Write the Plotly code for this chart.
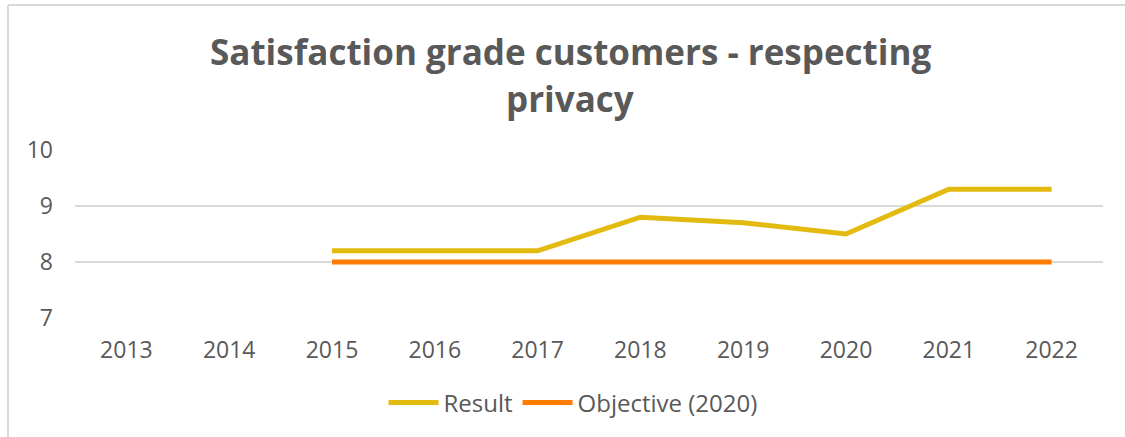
import plotly.graph_objects as go

years = ["2013", "2014", "2015", "2016", "2017", "2018", "2019", "2020", "2021", "2022"]
result_years = ["2015", "2016", "2017", "2018", "2019", "2020", "2021", "2022"]
result_values = [8.2, 8.2, 8.2, 8.8, 8.7, 8.5, 9.3, 9.3]
objective_years = ["2015", "2016", "2017", "2018", "2019", "2020", "2021", "2022"]
objective_values = [8, 8, 8, 8, 8, 8, 8, 8]
y_ticks = [7, 8, 9, 10]

FONT = "Open Sans"
GRAY = "#595959"

fig = go.Figure()
fig.add_trace(go.Scatter(x=result_years, y=result_values, mode="lines", name="Result",
                         line=dict(color="#E3BA10", width=5)))
fig.add_trace(go.Scatter(x=objective_years, y=objective_values, mode="lines", name="Objective (2020)",
                         line=dict(color="#FF7C00", width=5)))

W, H = 1125, 437
L, R, T, B = 75, 22, 150, 119
pw = W - L - R
ph = H - T - B

def px(x):
    return (x - L) / pw

def py(y):
    return (H - B - y) / ph

fig.update_layout(
    width=W, height=H,
    margin=dict(l=L, r=R, t=T, b=B, pad=0),
    paper_bgcolor="white", plot_bgcolor="white",
    font=dict(family=FONT, color=GRAY, size=20),
    showlegend=True,
    legend=dict(orientation="h", x=px(573), xanchor="center", y=py(403), yanchor="middle",
                font=dict(size=24, color=GRAY), itemwidth=50, tracegroupgap=0),
    xaxis=dict(type="category", categoryorder="array", categoryarray=years,
               range=[-0.5, 9.5], showgrid=False, zeroline=False, showline=False,
               ticks="", tickfont=dict(size=23, color=GRAY), ticklabelstandoff=16),
    yaxis=dict(range=[7, 10], tickvals=y_ticks, showgrid=True, gridcolor="#D9D9D9",
               gridwidth=1.5, zeroline=False, showline=False, ticks="",
               tickfont=dict(size=23, color=GRAY), ticklabelstandoff=21),
    annotations=[
        dict(text="<b>Satisfaction grade customers - respecting</b>", x=px(570), y=py(51),
             xref="paper", yref="paper", xanchor="center", yanchor="middle", showarrow=False,
             font=dict(size=35, color=GRAY, family=FONT)),
        dict(text="<b>privacy</b>", x=px(570), y=py(98),
             xref="paper", yref="paper", xanchor="center", yanchor="middle", showarrow=False,
             font=dict(size=35, color=GRAY, family=FONT)),
    ],
    shapes=[
        dict(type="line", xref="paper", yref="paper", x0=px(8), x1=px(1125), y0=py(5), y1=py(5),
             line=dict(color="#D9D9D9", width=2)),
        dict(type="line", xref="paper", yref="paper", x0=px(8), x1=px(8), y0=py(5), y1=py(437),
             line=dict(color="#D9D9D9", width=2)),
    ],
)

fig.write_html("out.html", config={"displayModeBar": False},
               post_script="document.body.style.margin='0';document.body.style.overflow='hidden';")
